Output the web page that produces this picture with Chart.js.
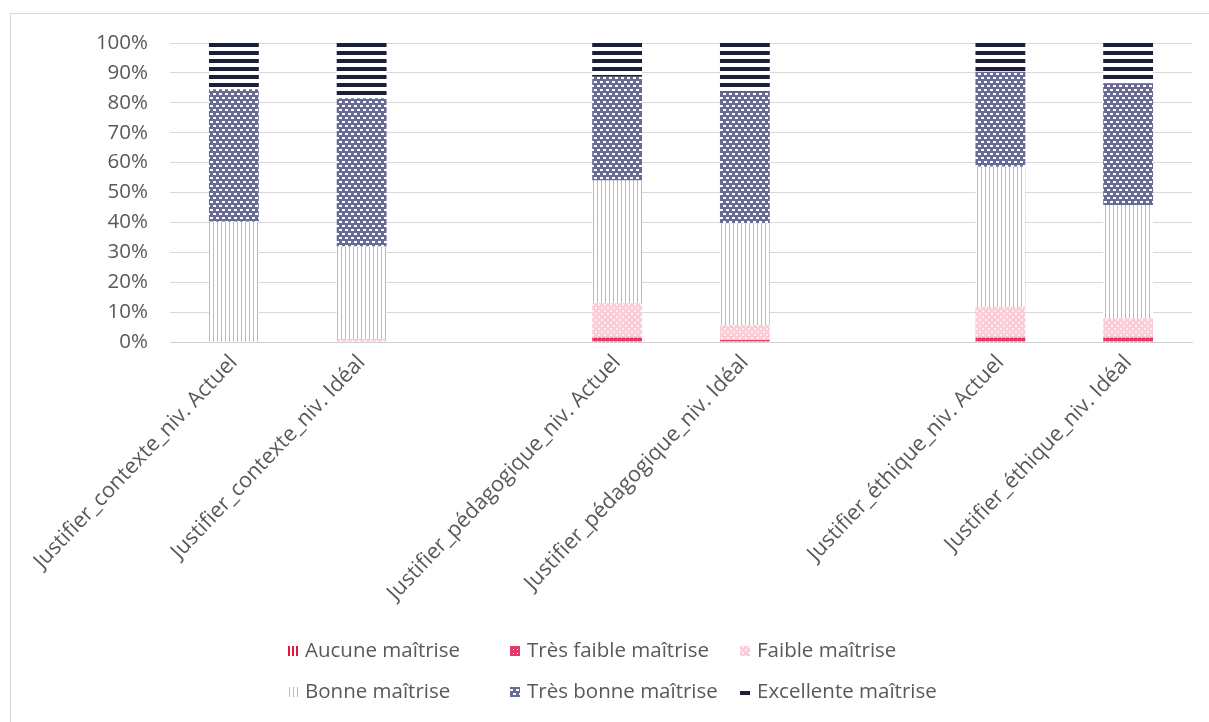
<!DOCTYPE html>
<html>
<head>
<meta charset="utf-8">
<script src="https://cdn.jsdelivr.net/npm/chart.js@4.4.1/dist/chart.umd.min.js"></script>
<style>
  html, body { margin: 0; padding: 0; background: #fff; }
  #wrap { position: absolute; left: 0; top: 0; width: 1209px; height: 722px; overflow: hidden; }
  #frame { position: absolute; left: 10px; top: 13px; width: 1260px; height: 800px;
           border-top: 1px solid #d9d9d9; border-left: 1px solid #d9d9d9; }
  #c { position: absolute; left: 0; top: 0; }
</style>
</head>
<body>
<div id="wrap">
  <div id="frame"></div>
  <canvas id="c" width="1209" height="722"></canvas>
</div>
<script>
// Categories (empty slots separate the three skill groups)
const categories = [
  'Justifier_contexte_niv. Actuel',
  'Justifier_contexte_niv. Idéal',
  '',
  'Justifier_pédagogique_niv. Actuel',
  'Justifier_pédagogique_niv. Idéal',
  '',
  'Justifier_éthique_niv. Actuel',
  'Justifier_éthique_niv. Idéal'
];

const seriesNames = [
  'Aucune maîtrise',
  'Très faible maîtrise',
  'Faible maîtrise',
  'Bonne maîtrise',
  'Très bonne maîtrise',
  'Excellente maîtrise'
];

// Share of respondents per level (%)
const aucune      = [0,    0,    null, 0,    0,    null, 0,    0];
const tresFaible  = [0,    0,    null, 1.5,  0.7,  null, 1.5,  1.5];
const faible      = [0,    1,    null, 11.5, 5,    null, 10.3, 6.4];
const bonne       = [40.2, 30.9, null, 41,   34,   null, 46.8, 37.9];
const tresBonne   = [44.3, 49.6, null, 34.7, 44,   null, 31.8, 40.7];
const excellente  = [15.5, 18.5, null, 11.3, 16.3, null, 9.6,  13.5];

const yTicks = [0, 10, 20, 30, 40, 50, 60, 70, 80, 90, 100];

// ---- fill patterns ----
function makePattern(w, h, draw, dy) {
  const cv = document.createElement('canvas');
  cv.width = w; cv.height = h;
  const g = cv.getContext('2d');
  draw(g, w, h);
  const p = g.createPattern(cv, 'repeat');
  if (dy && p.setTransform) p.setTransform(new DOMMatrix().translate(0, dy));
  return p;
}

const patAucune = makePattern(4, 4, (g) => {
  g.fillStyle = '#ffffff'; g.fillRect(0, 0, 4, 4);
  g.fillStyle = '#e3173e'; g.fillRect(0, 0, 2, 4);
});
const patTresFaible = makePattern(4, 4, (g) => {
  g.fillStyle = '#e8386a'; g.fillRect(0, 0, 4, 4);
  g.fillStyle = '#ffffff'; g.fillRect(1, 1, 1, 1);
});
const patFaible = makePattern(6, 6, (g) => {
  g.fillStyle = '#fcccd6'; g.fillRect(0, 0, 6, 6);
  g.fillStyle = '#fff0f3'; g.fillRect(1, 1, 2, 2); g.fillRect(4, 4, 2, 2);
});
const patBonne = makePattern(4, 4, (g) => {
  g.fillStyle = '#ffffff'; g.fillRect(0, 0, 4, 4);
  g.fillStyle = '#b5b9ce'; g.fillRect(1, 0, 1, 4);
});
const patTresBonne = makePattern(6, 8, (g) => {
  g.fillStyle = '#676b96'; g.fillRect(0, 0, 6, 8);
  g.fillStyle = '#ffffff';
  g.fillRect(0, 1, 3, 2);
  g.fillRect(3, 5, 3, 2);
});
const patExcellente = makePattern(8, 8, (g) => {
  g.fillStyle = '#ffffff'; g.fillRect(0, 0, 8, 8);
  g.fillStyle = '#1c1f38'; g.fillRect(0, 0, 8, 4);
}, 3);

const fills = [patAucune, patTresFaible, patFaible, patBonne, patTresBonne, patExcellente];
const values = [aucune, tresFaible, faible, bonne, tresBonne, excellente];

const TEXT = '#595959';
const FONT = '"Open Sans", Lato, sans-serif';

// Legend drawn as a 3-column grid under the plot
const gridLegend = {
  id: 'gridLegend',
  afterDraw(chart) {
    const ctx = chart.ctx;
    const colX = [305, 527, 757];
    const rowY = [651, 692];
    ctx.save();
    ctx.font = '20.5px ' + FONT;
    ctx.textBaseline = 'middle';
    ctx.textAlign = 'left';
    chart.data.datasets.forEach((ds, i) => {
      const x = colX[i % 3];
      const y = rowY[Math.floor(i / 3)];
      ctx.fillStyle = ds.backgroundColor;
      ctx.fillRect(x - 17, y - 5, 10, 10);
      ctx.fillStyle = TEXT;
      ctx.fillText(ds.label, x, y);
    });
    ctx.restore();
  }
};

const chart = new Chart(document.getElementById('c'), {
  type: 'bar',
  data: {
    labels: categories,
    datasets: seriesNames.map((name, i) => ({
      label: name,
      data: values[i],
      backgroundColor: fills[i],
      borderWidth: 0,
      barPercentage: 0.39,
      categoryPercentage: 1
    }))
  },
  options: {
    responsive: false,
    animation: false,
    events: [],
    layout: { padding: { left: 10, right: 17, top: 43, bottom: 0 } },
    plugins: {
      legend: { display: false },
      tooltip: { enabled: false },
      title: { display: false }
    },
    scales: {
      x: {
        stacked: true,
        grid: { display: false, drawTicks: false },
        border: { display: true, color: '#d0d0d0', width: 1 },
        ticks: {
          color: TEXT,
          font: { family: FONT, size: 21.5 },
          autoSkip: false,
          maxRotation: 46.5,
          minRotation: 46.5,
          padding: 8
        },
        afterFit(scale) { scale.height = 380; }
      },
      y: {
        stacked: true,
        min: 0,
        max: 100,
        afterBuildTicks(scale) { scale.ticks = yTicks.map(v => ({ value: v })); },
        grid: { color: '#d9d9d9', drawTicks: false },
        border: { display: false },
        ticks: {
          color: TEXT,
          font: { family: FONT, size: 20.5 },
          padding: 22,
          callback: (v) => v + '%'
        },
        afterFit(scale) { scale.width = 160; }
      }
    }
  },
  plugins: [gridLegend]
});
</script>
</body>
</html>
